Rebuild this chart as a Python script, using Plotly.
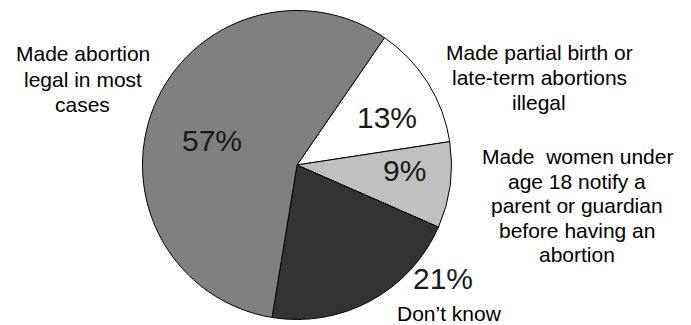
import plotly.graph_objects as go

# ---- data ----
labels = [
    "Made partial birth or<br>late-term abortions<br>illegal",
    "Made\u00a0 women under<br>age 18 notify a<br>parent or guardian<br>before having an<br>abortion",
    "Don\u2019t know",
    "Made abortion<br>legal in most<br>cases",
]
values = [13, 9, 21, 57]
colors = ["#ffffff", "#c0c0c0", "#333333", "#808080"]

W, H = 691, 325
FONT = "Liberation Sans, Arial, sans-serif"

# layout positions (pixels) for text
pct_pos = [(386.5, 117.5), (404.5, 170.5), (442.5, 278.5), (212, 141)]
lab_pos = [(539, 52.0, 25.0), (577, 156.5, 24.6), (449, 313.5, 25.0), (82.5, 54.0, 25.0)]

cx, cy, r = 297.0, 165.0, 154.5

fig = go.Figure(go.Pie(
    labels=[l.replace("<br>", " ") for l in labels],
    values=values,
    marker=dict(colors=colors, line=dict(color="#000000", width=1)),
    sort=False,
    direction="clockwise",
    rotation=34.5,
    textinfo="none",
    hoverinfo="label+percent",
    showlegend=False,
    domain=dict(x=[(cx - r) / W, (cx + r) / W],
                y=[(H - cy - r) / H, (H - cy + r) / H]),
))

ann = []
for v, (px, py) in zip(values, pct_pos):
    ann.append(dict(text=f"{v}%", x=px / W, y=1 - py / H, xref="paper", yref="paper",
                    xanchor="center", yanchor="middle", showarrow=False,
                    font=dict(family=FONT, size=30, color="#1a1a1a")))
for lab, (px, py, dy) in zip(labels, lab_pos):
    for i, line in enumerate(lab.split("<br>")):
        ann.append(dict(text=line, x=px / W, y=1 - (py + i * dy) / H, xref="paper", yref="paper",
                        xanchor="center", yanchor="middle", showarrow=False,
                        font=dict(family=FONT, size=21, color="#000000")))

fig.update_layout(
    width=W, height=H,
    margin=dict(l=0, r=0, t=0, b=0),
    paper_bgcolor="#ffffff",
    plot_bgcolor="#ffffff",
    annotations=ann,
)

fig.write_html("out.html")
